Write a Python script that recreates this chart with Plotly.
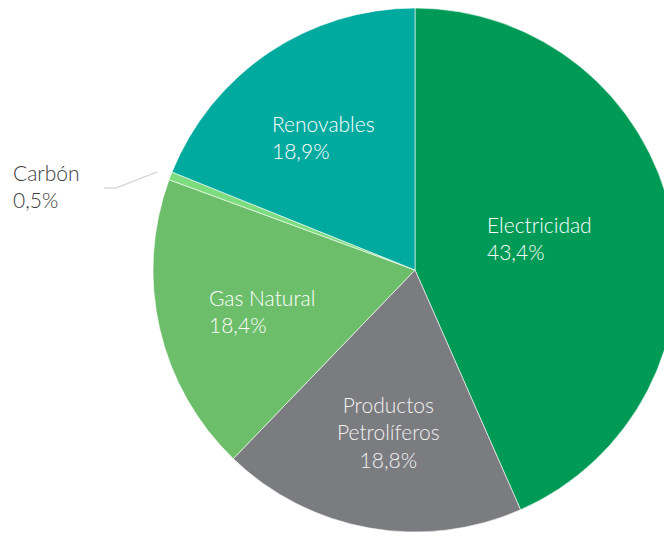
import plotly.graph_objects as go

labels = ["Electricidad", "Productos Petrolíferos", "Gas Natural", "Carbón", "Renovables"]
values = [43.4, 18.8, 18.4, 0.5, 18.9]
label_text = ["Electricidad<br>43,4%", "Productos<br>Petrolíferos<br>18,8%",
              "Gas Natural<br>18,4%", "Carbón<br>0,5%", "Renovables<br>18,9%"]
colors = ["#009A57", "#7B7C80", "#6DBE6B", "#7DDD7E", "#00AA9E"]

W, H = 672, 538
OFF = 8  # page body margin

def px(x, y):
    # screen pixel -> paper coordinates
    return (x - OFF) / W, 1 - (y - OFF) / H

fig = go.Figure(go.Pie(
    labels=labels, values=values, sort=False, direction="clockwise", rotation=0,
    marker=dict(colors=colors, line=dict(color="rgba(255,255,255,0.6)", width=1)),
    textinfo="none", hoverinfo="label+percent", showlegend=False,
    domain=dict(x=[145 / W, 669 / W], y=[1 - 524 / H, 1.0]),
))

# label placements (screen pixel positions of text blocks)
placements = [
    (485, 238, "left", "#FFFFFF"),
    (388, 432, "center", "#F2F2F2"),
    (207, 311, "left", "#FFFFFF"),
    (11, 186, "left", "#3A3A3A"),
    (270, 137, "left", "#FFFFFF"),
]
for txt, (x, y, al, col) in zip(label_text, placements):
    ax, ay = px(x, y)
    fig.add_annotation(x=ax, y=ay, xref="paper", yref="paper", text=txt,
                       showarrow=False, xanchor=al, yanchor="middle", align=al,
                       font=dict(family="Lato", size=21, color=col, weight=300))

# leader line for Carbón
for (x0, y0, x1, y1) in [(104, 188, 116, 188), (116, 188, 157, 172)]:
    a0, b0 = px(x0, y0)
    a1, b1 = px(x1, y1)
    fig.add_shape(type="line", xref="paper", yref="paper", x0=a0, y0=b0, x1=a1, y1=b1,
                  line=dict(color="#C8C8C8", width=1))

fig.update_layout(width=W, height=H, margin=dict(l=0, r=0, t=0, b=0),
                  paper_bgcolor="white", plot_bgcolor="white")
fig.write_html("out.html")
